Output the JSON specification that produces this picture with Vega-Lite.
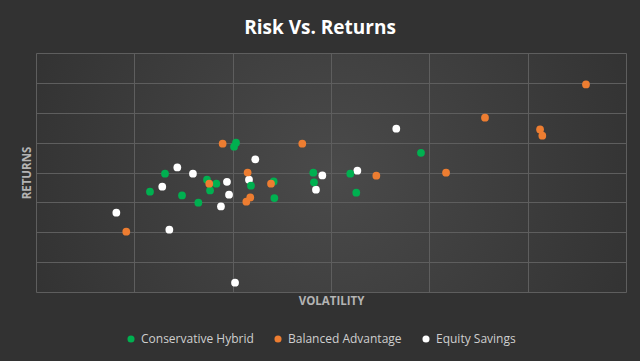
{
  "$schema": "https://vega.github.io/schema/vega-lite/v6.json",
  "autosize": {"type": "none"},
  "width": 590,
  "height": 239,
  "padding": {"left": 36, "top": 53, "right": 14, "bottom": 69},
  "background": "#323232",
  "title": {
    "text": "Risk Vs. Returns",
    "color": "#ffffff",
    "font": "Open Sans",
    "fontSize": 19,
    "fontWeight": "bold",
    "anchor": "middle",
    "offset": 15,
    "dx": -11
  },
  "config": {
    "view": {
      "stroke": null,
      "fill": {
        "gradient": "radial",
        "x1": 0.5, "y1": 0.5, "r1": 0,
        "x2": 0.5, "y2": 0.5, "r2": 0.75,
        "stops": [
          {"offset": 0, "color": "#4a4a4a"},
          {"offset": 1, "color": "#2a2a2a"}
        ]
      }
    },
    "axis": {
      "grid": true,
      "gridColor": "#5e5e5e",
      "gridWidth": 1,
      "domain": false,
      "ticks": false,
      "labels": false,
      "titleColor": "#b4b4b4",
      "titleFont": "Open Sans",
      "titleFontSize": 11.5,
      "titleFontWeight": "bold"
    },
    "legend": {
      "labelColor": "#cfcfcf",
      "labelFont": "Open Sans",
      "labelFontSize": 12,
      "symbolSize": 50,
      "symbolStrokeWidth": 0,
      "columnPadding": 18,
      "labelOffset": 4
    }
  },
  "data": {
    "values": [
      {"series": "Equity Savings", "volatility": 0.817, "returns": 2.654},
      {"series": "Equity Savings", "volatility": 1.437, "returns": 4.17},
      {"series": "Equity Savings", "volatility": 1.284, "returns": 3.525},
      {"series": "Equity Savings", "volatility": 1.596, "returns": 3.96},
      {"series": "Equity Savings", "volatility": 1.356, "returns": 2.085},
      {"series": "Equity Savings", "volatility": 1.942, "returns": 3.69},
      {"series": "Equity Savings", "volatility": 1.963, "returns": 3.257},
      {"series": "Equity Savings", "volatility": 1.881, "returns": 2.866},
      {"series": "Equity Savings", "volatility": 2.23, "returns": 4.44},
      {"series": "Equity Savings", "volatility": 2.166, "returns": 3.76},
      {"series": "Equity Savings", "volatility": 2.024, "returns": 0.311},
      {"series": "Equity Savings", "volatility": 2.912, "returns": 3.9},
      {"series": "Equity Savings", "volatility": 2.847, "returns": 3.424},
      {"series": "Equity Savings", "volatility": 3.268, "returns": 4.06},
      {"series": "Equity Savings", "volatility": 3.664, "returns": 5.466},
      {"series": "Conservative Hybrid", "volatility": 1.312, "returns": 3.96},
      {"series": "Conservative Hybrid", "volatility": 1.159, "returns": 3.357},
      {"series": "Conservative Hybrid", "volatility": 1.485, "returns": 3.234},
      {"series": "Conservative Hybrid", "volatility": 1.651, "returns": 2.99},
      {"series": "Conservative Hybrid", "volatility": 1.739, "returns": 3.76},
      {"series": "Conservative Hybrid", "volatility": 1.834, "returns": 3.625},
      {"series": "Conservative Hybrid", "volatility": 1.77, "returns": 3.4},
      {"series": "Conservative Hybrid", "volatility": 2.034, "returns": 5.0},
      {"series": "Conservative Hybrid", "volatility": 2.014, "returns": 4.864},
      {"series": "Conservative Hybrid", "volatility": 2.186, "returns": 3.558},
      {"series": "Conservative Hybrid", "volatility": 2.417, "returns": 3.7},
      {"series": "Conservative Hybrid", "volatility": 2.424, "returns": 3.146},
      {"series": "Conservative Hybrid", "volatility": 2.82, "returns": 3.993},
      {"series": "Conservative Hybrid", "volatility": 2.827, "returns": 3.67},
      {"series": "Conservative Hybrid", "volatility": 3.196, "returns": 3.96},
      {"series": "Conservative Hybrid", "volatility": 3.257, "returns": 3.324},
      {"series": "Conservative Hybrid", "volatility": 3.915, "returns": 4.66},
      {"series": "Balanced Advantage", "volatility": 0.918, "returns": 2.018},
      {"series": "Balanced Advantage", "volatility": 1.898, "returns": 4.964},
      {"series": "Balanced Advantage", "volatility": 1.762, "returns": 3.625},
      {"series": "Balanced Advantage", "volatility": 2.152, "returns": 4.0},
      {"series": "Balanced Advantage", "volatility": 2.39, "returns": 3.625},
      {"series": "Balanced Advantage", "volatility": 2.179, "returns": 3.167},
      {"series": "Balanced Advantage", "volatility": 2.139, "returns": 3.022},
      {"series": "Balanced Advantage", "volatility": 2.708, "returns": 4.964},
      {"series": "Balanced Advantage", "volatility": 3.461, "returns": 3.893},
      {"series": "Balanced Advantage", "volatility": 4.17, "returns": 3.993},
      {"series": "Balanced Advantage", "volatility": 4.566, "returns": 5.834},
      {"series": "Balanced Advantage", "volatility": 5.126, "returns": 5.443},
      {"series": "Balanced Advantage", "volatility": 5.149, "returns": 5.232},
      {"series": "Balanced Advantage", "volatility": 5.593, "returns": 6.949}
    ]
  },
  "mark": {"type": "circle", "size": 60, "opacity": 1},
  "encoding": {
    "x": {
      "field": "volatility",
      "type": "quantitative",
      "title": "VOLATILITY",
      "scale": {"domain": [0, 6], "nice": false, "zero": false},
      "axis": {"values": [0, 1, 2, 3, 4, 5, 6], "titlePadding": 3}
    },
    "y": {
      "field": "returns",
      "type": "quantitative",
      "title": "RETURNS",
      "scale": {"domain": [0, 8], "nice": false, "zero": false},
      "axis": {"values": [0, 1, 2, 3, 4, 5, 6, 7, 8], "titlePadding": 4}
    },
    "color": {
      "field": "series",
      "type": "nominal",
      "scale": {
        "domain": ["Conservative Hybrid", "Balanced Advantage", "Equity Savings"],
        "range": ["#00b050", "#ed7d31", "#ffffff"]
      },
      "legend": {"orient": "none", "direction": "horizontal", "title": null, "legendX": 89, "legendY": 280}
    }
  }
}
